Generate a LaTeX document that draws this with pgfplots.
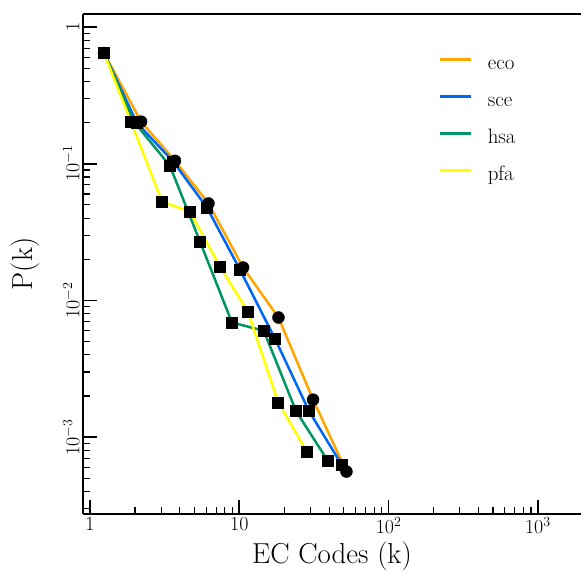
\RequirePackage{fix-cm}
\documentclass[border=0pt]{standalone}
\usepackage{pgfplots}
\pgfplotsset{compat=1.18}
\definecolor{ceco}{RGB}{255,165,0}
\definecolor{csce}{RGB}{0,102,245}
\definecolor{chsa}{RGB}{0,150,100}
\definecolor{cpfa}{RGB}{255,255,0}
\begin{document}
\begin{tikzpicture}
\begin{axis}[
  scale only axis, width=498bp, height=500bp,
  xmode=log, ymode=log,
  xmin=0.898, xmax=1944, ymin=2.74e-4, ymax=1.245,
  axis lines*=left,
  axis line style={line width=1.8bp, black},
  tick align=inside,
  xtick={1,10,100,1000},
  xticklabels={$1$,$10$,$10^2$,$10^3$},
  ytick={1e-3,1e-2,1e-1,1},
  yticklabels={$10^{-3}$,$10^{-2}$,$10^{-1}$,$1$},
  minor xtick={2,3,4,5,6,7,8,9,20,30,40,50,60,70,80,90,200,300,400,500,600,700,800,900},
  minor ytick={3e-4,4e-4,5e-4,6e-4,7e-4,8e-4,9e-4,2e-3,3e-3,4e-3,5e-3,6e-3,7e-3,8e-3,9e-3,2e-2,3e-2,4e-2,5e-2,6e-2,7e-2,8e-2,9e-2,0.2,0.3,0.4,0.5,0.6,0.7,0.8,0.9},
  major tick length=14bp, minor tick length=7bp,
  major tick style={line width=1.6bp, black},
  minor tick style={line width=1.2bp, black},
  ticklabel style={font=\fontsize{20}{24}\selectfont},
  yticklabel style={rotate=90, anchor=south},
  xlabel={EC Codes (k)},
  ylabel={P(k)},
  xlabel style={font=\fontsize{29}{34}\selectfont, at={(rel axis cs:0.5,0)}, anchor=base, yshift=-49bp},
  ylabel style={font=\fontsize{29}{34}\selectfont, at={(rel axis cs:0,0.5)}, anchor=base, yshift=50bp},
  legend style={draw=none, fill=none, at={(rel axis cs:0.707,0.945)}, anchor=north west,
    font=\fontsize{21}{25}\selectfont, row sep=5bp,
    nodes={text height=24bp, text depth=4bp},
    /tikz/every odd column/.append style={column sep=14bp}},
  legend cell align=left,
  legend image code/.code={\draw[#1] (0bp,0bp) -- (31bp,0bp);},
]
% markers (drawn first, below the lines)
\addplot[forget plot, only marks, mark=*, mark size=6bp, black, line width=0.4bp] coordinates {
 (1.24,0.646) (2.20,0.203) (3.71,0.105) (6.22,0.0512) (10.6,0.0174) (18.3,0.0075) (31.2,0.00188) (52.2,0.00056)};
\addplot[forget plot, only marks, mark=square*, mark size=5.5bp, black, line width=0.4bp] coordinates {
 (1.24,0.646) (2.06,0.199) (3.60,0.104) (6.08,0.0477) (10.1,0.0168) (17.3,0.00528) (29.3,0.00155) (48.7,0.000625)};
\addplot[forget plot, only marks, mark=square*, mark size=5.5bp, black, line width=0.4bp] coordinates {
 (1.24,0.646) (1.97,0.203) (3.43,0.0967) (5.45,0.0270) (8.93,0.0069) (14.6,0.0060) (24.0,0.00155) (39.3,0.000668)};
\addplot[forget plot, only marks, mark=square*, mark size=5.5bp, black, line width=0.4bp] coordinates {
 (1.24,0.646) (1.88,0.203) (3.04,0.0528) (4.67,0.0446) (7.42,0.0177) (11.4,0.0083) (18.2,0.0018) (28.4,0.00078)};
% lines
\addplot[ceco, no marks, line width=2.5bp] coordinates {
 (1.24,0.646) (2.20,0.203) (3.71,0.105) (6.22,0.0512) (10.6,0.0174) (18.3,0.0075) (31.2,0.00188) (52.2,0.00056)};
\addlegendentry{eco}
\addplot[csce, no marks, line width=2.5bp] coordinates {
 (1.24,0.646) (2.06,0.199) (3.60,0.104) (6.08,0.0477) (10.1,0.0168) (17.3,0.00528) (29.3,0.00155) (48.7,0.000625)};
\addlegendentry{sce}
\addplot[chsa, no marks, line width=2.5bp] coordinates {
 (1.24,0.646) (1.97,0.203) (3.43,0.0967) (5.45,0.0270) (8.93,0.0069) (14.6,0.0060) (24.0,0.00155) (39.3,0.000668)};
\addlegendentry{hsa}
\addplot[cpfa, no marks, line width=2.5bp] coordinates {
 (1.24,0.646) (1.88,0.203) (3.04,0.0528) (4.67,0.0446) (7.42,0.0177) (11.4,0.0083) (18.2,0.0018) (28.4,0.00078)};
\addlegendentry{pfa}
\draw[line width=1.8bp, black] (rel axis cs:0,1) -- (rel axis cs:1,1);
\end{axis}
\pgfresetboundingbox
\path (current axis.south west) ++(-83bp,-59bp) rectangle ++(581bp,573bp);
\end{tikzpicture}
\end{document}
